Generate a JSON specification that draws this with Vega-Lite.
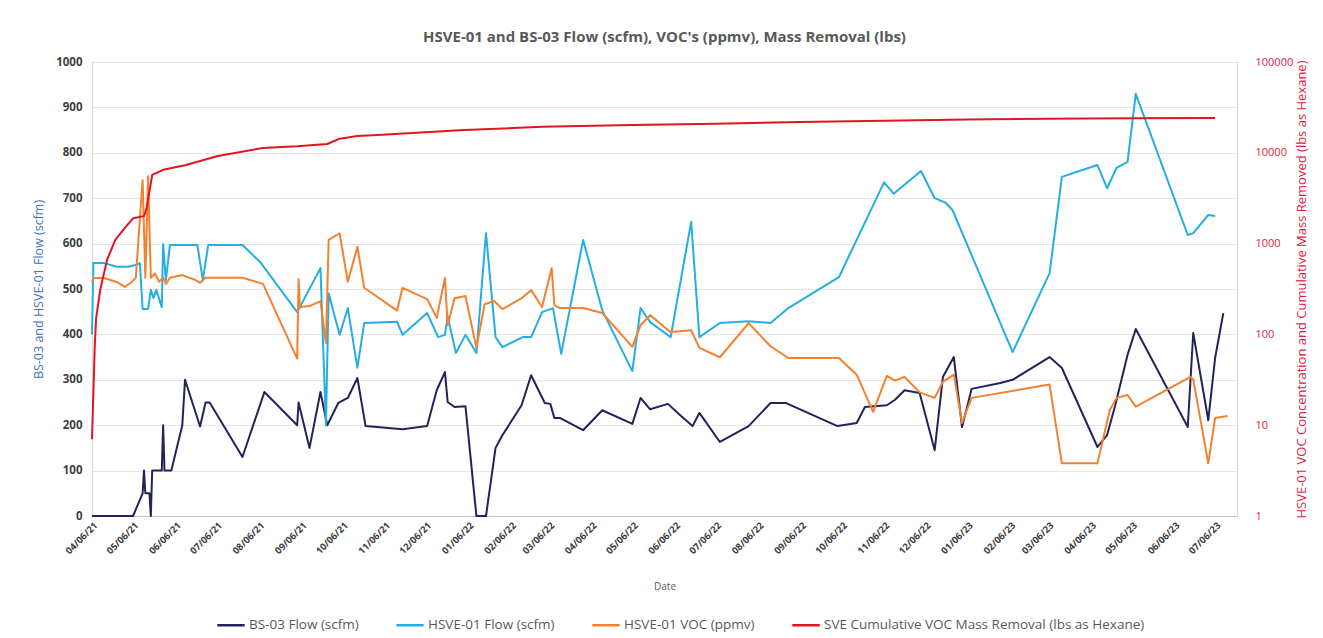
{
  "$schema": "https://vega.github.io/schema/vega-lite/v6.json",
  "width": 1145,
  "height": 454,
  "autosize": {"type": "none"},
  "padding": {"left": 92, "top": 62, "right": 86, "bottom": 122},
  "background": "white",
  "config": {
    "font": "Open Sans",
    "view": {"stroke": "#D9D9D9", "strokeWidth": 1}
  },
  "title": {
    "text": "HSVE-01 and BS-03 Flow (scfm), VOC's (ppmv), Mass Removal (lbs)",
    "frame": "group",
    "anchor": "middle",
    "fontSize": 15,
    "fontWeight": "bold",
    "color": "#595959",
    "font": "Open Sans",
    "offset": 11
  },
  "data": {
    "format": {"parse": {"d": "date:'%Y-%m-%d'"}},
    "values": [
      {"d": "2021-04-06", "s": "BS-03 Flow (scfm)", "v": 0},
      {"d": "2021-05-06", "s": "BS-03 Flow (scfm)", "v": 0},
      {"d": "2021-05-13", "s": "BS-03 Flow (scfm)", "v": 50},
      {"d": "2021-05-14", "s": "BS-03 Flow (scfm)", "v": 100},
      {"d": "2021-05-15", "s": "BS-03 Flow (scfm)", "v": 50},
      {"d": "2021-05-18", "s": "BS-03 Flow (scfm)", "v": 50},
      {"d": "2021-05-19", "s": "BS-03 Flow (scfm)", "v": 0},
      {"d": "2021-05-20", "s": "BS-03 Flow (scfm)", "v": 100},
      {"d": "2021-05-27", "s": "BS-03 Flow (scfm)", "v": 100},
      {"d": "2021-05-28", "s": "BS-03 Flow (scfm)", "v": 200},
      {"d": "2021-05-29", "s": "BS-03 Flow (scfm)", "v": 100},
      {"d": "2021-06-03", "s": "BS-03 Flow (scfm)", "v": 100},
      {"d": "2021-06-11", "s": "BS-03 Flow (scfm)", "v": 200},
      {"d": "2021-06-13", "s": "BS-03 Flow (scfm)", "v": 300},
      {"d": "2021-06-24", "s": "BS-03 Flow (scfm)", "v": 197},
      {"d": "2021-06-28", "s": "BS-03 Flow (scfm)", "v": 250},
      {"d": "2021-07-01", "s": "BS-03 Flow (scfm)", "v": 250},
      {"d": "2021-07-25", "s": "BS-03 Flow (scfm)", "v": 130},
      {"d": "2021-08-10", "s": "BS-03 Flow (scfm)", "v": 273},
      {"d": "2021-09-03", "s": "BS-03 Flow (scfm)", "v": 200},
      {"d": "2021-09-04", "s": "BS-03 Flow (scfm)", "v": 250},
      {"d": "2021-09-12", "s": "BS-03 Flow (scfm)", "v": 150},
      {"d": "2021-09-20", "s": "BS-03 Flow (scfm)", "v": 273},
      {"d": "2021-09-25", "s": "BS-03 Flow (scfm)", "v": 200},
      {"d": "2021-10-03", "s": "BS-03 Flow (scfm)", "v": 249},
      {"d": "2021-10-10", "s": "BS-03 Flow (scfm)", "v": 260},
      {"d": "2021-10-17", "s": "BS-03 Flow (scfm)", "v": 304},
      {"d": "2021-10-23", "s": "BS-03 Flow (scfm)", "v": 198},
      {"d": "2021-11-19", "s": "BS-03 Flow (scfm)", "v": 191},
      {"d": "2021-12-07", "s": "BS-03 Flow (scfm)", "v": 198},
      {"d": "2021-12-14", "s": "BS-03 Flow (scfm)", "v": 277},
      {"d": "2021-12-20", "s": "BS-03 Flow (scfm)", "v": 317},
      {"d": "2021-12-22", "s": "BS-03 Flow (scfm)", "v": 251},
      {"d": "2021-12-27", "s": "BS-03 Flow (scfm)", "v": 240},
      {"d": "2022-01-04", "s": "BS-03 Flow (scfm)", "v": 242},
      {"d": "2022-01-12", "s": "BS-03 Flow (scfm)", "v": 0},
      {"d": "2022-01-19", "s": "BS-03 Flow (scfm)", "v": 0},
      {"d": "2022-01-26", "s": "BS-03 Flow (scfm)", "v": 150},
      {"d": "2022-01-31", "s": "BS-03 Flow (scfm)", "v": 178},
      {"d": "2022-02-14", "s": "BS-03 Flow (scfm)", "v": 244},
      {"d": "2022-02-21", "s": "BS-03 Flow (scfm)", "v": 310},
      {"d": "2022-03-03", "s": "BS-03 Flow (scfm)", "v": 249},
      {"d": "2022-03-07", "s": "BS-03 Flow (scfm)", "v": 247},
      {"d": "2022-03-10", "s": "BS-03 Flow (scfm)", "v": 216},
      {"d": "2022-03-14", "s": "BS-03 Flow (scfm)", "v": 216},
      {"d": "2022-03-31", "s": "BS-03 Flow (scfm)", "v": 189},
      {"d": "2022-04-14", "s": "BS-03 Flow (scfm)", "v": 233},
      {"d": "2022-05-06", "s": "BS-03 Flow (scfm)", "v": 203},
      {"d": "2022-05-12", "s": "BS-03 Flow (scfm)", "v": 260},
      {"d": "2022-05-19", "s": "BS-03 Flow (scfm)", "v": 235},
      {"d": "2022-06-01", "s": "BS-03 Flow (scfm)", "v": 247},
      {"d": "2022-06-10", "s": "BS-03 Flow (scfm)", "v": 222},
      {"d": "2022-06-19", "s": "BS-03 Flow (scfm)", "v": 198},
      {"d": "2022-06-24", "s": "BS-03 Flow (scfm)", "v": 227},
      {"d": "2022-07-09", "s": "BS-03 Flow (scfm)", "v": 163},
      {"d": "2022-07-30", "s": "BS-03 Flow (scfm)", "v": 198},
      {"d": "2022-08-15", "s": "BS-03 Flow (scfm)", "v": 249},
      {"d": "2022-08-26", "s": "BS-03 Flow (scfm)", "v": 249},
      {"d": "2022-10-03", "s": "BS-03 Flow (scfm)", "v": 198},
      {"d": "2022-10-17", "s": "BS-03 Flow (scfm)", "v": 205},
      {"d": "2022-10-23", "s": "BS-03 Flow (scfm)", "v": 240},
      {"d": "2022-11-08", "s": "BS-03 Flow (scfm)", "v": 244},
      {"d": "2022-11-14", "s": "BS-03 Flow (scfm)", "v": 256},
      {"d": "2022-11-21", "s": "BS-03 Flow (scfm)", "v": 277},
      {"d": "2022-12-02", "s": "BS-03 Flow (scfm)", "v": 271},
      {"d": "2022-12-13", "s": "BS-03 Flow (scfm)", "v": 145},
      {"d": "2022-12-19", "s": "BS-03 Flow (scfm)", "v": 306},
      {"d": "2022-12-27", "s": "BS-03 Flow (scfm)", "v": 350},
      {"d": "2023-01-02", "s": "BS-03 Flow (scfm)", "v": 196},
      {"d": "2023-01-09", "s": "BS-03 Flow (scfm)", "v": 280},
      {"d": "2023-01-30", "s": "BS-03 Flow (scfm)", "v": 293},
      {"d": "2023-02-08", "s": "BS-03 Flow (scfm)", "v": 300},
      {"d": "2023-03-07", "s": "BS-03 Flow (scfm)", "v": 350},
      {"d": "2023-03-16", "s": "BS-03 Flow (scfm)", "v": 326},
      {"d": "2023-04-11", "s": "BS-03 Flow (scfm)", "v": 152},
      {"d": "2023-04-18", "s": "BS-03 Flow (scfm)", "v": 178},
      {"d": "2023-04-24", "s": "BS-03 Flow (scfm)", "v": 244},
      {"d": "2023-05-03", "s": "BS-03 Flow (scfm)", "v": 355},
      {"d": "2023-05-09", "s": "BS-03 Flow (scfm)", "v": 412},
      {"d": "2023-06-16", "s": "BS-03 Flow (scfm)", "v": 196},
      {"d": "2023-06-20", "s": "BS-03 Flow (scfm)", "v": 403},
      {"d": "2023-07-01", "s": "BS-03 Flow (scfm)", "v": 211},
      {"d": "2023-07-06", "s": "BS-03 Flow (scfm)", "v": 348},
      {"d": "2023-07-12", "s": "BS-03 Flow (scfm)", "v": 447},

      {"d": "2021-04-06", "s": "HSVE-01 Flow (scfm)", "v": 400},
      {"d": "2021-04-07", "s": "HSVE-01 Flow (scfm)", "v": 557},
      {"d": "2021-04-15", "s": "HSVE-01 Flow (scfm)", "v": 557},
      {"d": "2021-04-24", "s": "HSVE-01 Flow (scfm)", "v": 549},
      {"d": "2021-05-02", "s": "HSVE-01 Flow (scfm)", "v": 549},
      {"d": "2021-05-08", "s": "HSVE-01 Flow (scfm)", "v": 553},
      {"d": "2021-05-11", "s": "HSVE-01 Flow (scfm)", "v": 557},
      {"d": "2021-05-13", "s": "HSVE-01 Flow (scfm)", "v": 456},
      {"d": "2021-05-17", "s": "HSVE-01 Flow (scfm)", "v": 456},
      {"d": "2021-05-19", "s": "HSVE-01 Flow (scfm)", "v": 498},
      {"d": "2021-05-21", "s": "HSVE-01 Flow (scfm)", "v": 480},
      {"d": "2021-05-23", "s": "HSVE-01 Flow (scfm)", "v": 498},
      {"d": "2021-05-27", "s": "HSVE-01 Flow (scfm)", "v": 460},
      {"d": "2021-05-28", "s": "HSVE-01 Flow (scfm)", "v": 599},
      {"d": "2021-05-30", "s": "HSVE-01 Flow (scfm)", "v": 520},
      {"d": "2021-06-02", "s": "HSVE-01 Flow (scfm)", "v": 597},
      {"d": "2021-06-22", "s": "HSVE-01 Flow (scfm)", "v": 597},
      {"d": "2021-06-26", "s": "HSVE-01 Flow (scfm)", "v": 520},
      {"d": "2021-06-30", "s": "HSVE-01 Flow (scfm)", "v": 597},
      {"d": "2021-07-25", "s": "HSVE-01 Flow (scfm)", "v": 597},
      {"d": "2021-08-07", "s": "HSVE-01 Flow (scfm)", "v": 559},
      {"d": "2021-09-03", "s": "HSVE-01 Flow (scfm)", "v": 449},
      {"d": "2021-09-20", "s": "HSVE-01 Flow (scfm)", "v": 546},
      {"d": "2021-09-24", "s": "HSVE-01 Flow (scfm)", "v": 200},
      {"d": "2021-09-26", "s": "HSVE-01 Flow (scfm)", "v": 490},
      {"d": "2021-10-04", "s": "HSVE-01 Flow (scfm)", "v": 399},
      {"d": "2021-10-10", "s": "HSVE-01 Flow (scfm)", "v": 458},
      {"d": "2021-10-17", "s": "HSVE-01 Flow (scfm)", "v": 327},
      {"d": "2021-10-22", "s": "HSVE-01 Flow (scfm)", "v": 425},
      {"d": "2021-11-15", "s": "HSVE-01 Flow (scfm)", "v": 428},
      {"d": "2021-11-19", "s": "HSVE-01 Flow (scfm)", "v": 399},
      {"d": "2021-12-07", "s": "HSVE-01 Flow (scfm)", "v": 447},
      {"d": "2021-12-15", "s": "HSVE-01 Flow (scfm)", "v": 394},
      {"d": "2021-12-20", "s": "HSVE-01 Flow (scfm)", "v": 399},
      {"d": "2021-12-22", "s": "HSVE-01 Flow (scfm)", "v": 440},
      {"d": "2021-12-28", "s": "HSVE-01 Flow (scfm)", "v": 359},
      {"d": "2022-01-04", "s": "HSVE-01 Flow (scfm)", "v": 399},
      {"d": "2022-01-12", "s": "HSVE-01 Flow (scfm)", "v": 359},
      {"d": "2022-01-19", "s": "HSVE-01 Flow (scfm)", "v": 623},
      {"d": "2022-01-26", "s": "HSVE-01 Flow (scfm)", "v": 394},
      {"d": "2022-01-31", "s": "HSVE-01 Flow (scfm)", "v": 372},
      {"d": "2022-02-15", "s": "HSVE-01 Flow (scfm)", "v": 394},
      {"d": "2022-02-21", "s": "HSVE-01 Flow (scfm)", "v": 394},
      {"d": "2022-03-01", "s": "HSVE-01 Flow (scfm)", "v": 449},
      {"d": "2022-03-09", "s": "HSVE-01 Flow (scfm)", "v": 458},
      {"d": "2022-03-15", "s": "HSVE-01 Flow (scfm)", "v": 357},
      {"d": "2022-03-31", "s": "HSVE-01 Flow (scfm)", "v": 608},
      {"d": "2022-04-14", "s": "HSVE-01 Flow (scfm)", "v": 453},
      {"d": "2022-05-06", "s": "HSVE-01 Flow (scfm)", "v": 319},
      {"d": "2022-05-12", "s": "HSVE-01 Flow (scfm)", "v": 458},
      {"d": "2022-05-19", "s": "HSVE-01 Flow (scfm)", "v": 427},
      {"d": "2022-06-03", "s": "HSVE-01 Flow (scfm)", "v": 394},
      {"d": "2022-06-18", "s": "HSVE-01 Flow (scfm)", "v": 648},
      {"d": "2022-06-24", "s": "HSVE-01 Flow (scfm)", "v": 394},
      {"d": "2022-07-09", "s": "HSVE-01 Flow (scfm)", "v": 425},
      {"d": "2022-07-30", "s": "HSVE-01 Flow (scfm)", "v": 429},
      {"d": "2022-08-15", "s": "HSVE-01 Flow (scfm)", "v": 425},
      {"d": "2022-08-28", "s": "HSVE-01 Flow (scfm)", "v": 458},
      {"d": "2022-10-04", "s": "HSVE-01 Flow (scfm)", "v": 526},
      {"d": "2022-11-06", "s": "HSVE-01 Flow (scfm)", "v": 735},
      {"d": "2022-11-13", "s": "HSVE-01 Flow (scfm)", "v": 710},
      {"d": "2022-12-03", "s": "HSVE-01 Flow (scfm)", "v": 760},
      {"d": "2022-12-13", "s": "HSVE-01 Flow (scfm)", "v": 700},
      {"d": "2022-12-21", "s": "HSVE-01 Flow (scfm)", "v": 690},
      {"d": "2022-12-26", "s": "HSVE-01 Flow (scfm)", "v": 674},
      {"d": "2023-02-08", "s": "HSVE-01 Flow (scfm)", "v": 361},
      {"d": "2023-03-07", "s": "HSVE-01 Flow (scfm)", "v": 535},
      {"d": "2023-03-16", "s": "HSVE-01 Flow (scfm)", "v": 747},
      {"d": "2023-04-11", "s": "HSVE-01 Flow (scfm)", "v": 773},
      {"d": "2023-04-18", "s": "HSVE-01 Flow (scfm)", "v": 722},
      {"d": "2023-04-25", "s": "HSVE-01 Flow (scfm)", "v": 767},
      {"d": "2023-05-03", "s": "HSVE-01 Flow (scfm)", "v": 780},
      {"d": "2023-05-09", "s": "HSVE-01 Flow (scfm)", "v": 930},
      {"d": "2023-06-16", "s": "HSVE-01 Flow (scfm)", "v": 619},
      {"d": "2023-06-20", "s": "HSVE-01 Flow (scfm)", "v": 623},
      {"d": "2023-07-01", "s": "HSVE-01 Flow (scfm)", "v": 663},
      {"d": "2023-07-06", "s": "HSVE-01 Flow (scfm)", "v": 661},

      {"d": "2021-04-06", "s": "HSVE-01 VOC (ppmv)", "v": 378},
      {"d": "2021-04-07", "s": "HSVE-01 VOC (ppmv)", "v": 418},
      {"d": "2021-04-15", "s": "HSVE-01 VOC (ppmv)", "v": 418},
      {"d": "2021-04-24", "s": "HSVE-01 VOC (ppmv)", "v": 378},
      {"d": "2021-04-30", "s": "HSVE-01 VOC (ppmv)", "v": 333},
      {"d": "2021-05-05", "s": "HSVE-01 VOC (ppmv)", "v": 378},
      {"d": "2021-05-08", "s": "HSVE-01 VOC (ppmv)", "v": 420},
      {"d": "2021-05-13", "s": "HSVE-01 VOC (ppmv)", "v": 5000},
      {"d": "2021-05-15", "s": "HSVE-01 VOC (ppmv)", "v": 420},
      {"d": "2021-05-17", "s": "HSVE-01 VOC (ppmv)", "v": 5500},
      {"d": "2021-05-19", "s": "HSVE-01 VOC (ppmv)", "v": 420},
      {"d": "2021-05-22", "s": "HSVE-01 VOC (ppmv)", "v": 470},
      {"d": "2021-05-25", "s": "HSVE-01 VOC (ppmv)", "v": 380},
      {"d": "2021-05-28", "s": "HSVE-01 VOC (ppmv)", "v": 420},
      {"d": "2021-05-30", "s": "HSVE-01 VOC (ppmv)", "v": 360},
      {"d": "2021-06-02", "s": "HSVE-01 VOC (ppmv)", "v": 420},
      {"d": "2021-06-11", "s": "HSVE-01 VOC (ppmv)", "v": 450},
      {"d": "2021-06-20", "s": "HSVE-01 VOC (ppmv)", "v": 400},
      {"d": "2021-06-24", "s": "HSVE-01 VOC (ppmv)", "v": 370},
      {"d": "2021-06-28", "s": "HSVE-01 VOC (ppmv)", "v": 420},
      {"d": "2021-07-25", "s": "HSVE-01 VOC (ppmv)", "v": 420},
      {"d": "2021-08-09", "s": "HSVE-01 VOC (ppmv)", "v": 360},
      {"d": "2021-09-03", "s": "HSVE-01 VOC (ppmv)", "v": 54},
      {"d": "2021-09-04", "s": "HSVE-01 VOC (ppmv)", "v": 407},
      {"d": "2021-09-05", "s": "HSVE-01 VOC (ppmv)", "v": 200},
      {"d": "2021-09-12", "s": "HSVE-01 VOC (ppmv)", "v": 205},
      {"d": "2021-09-20", "s": "HSVE-01 VOC (ppmv)", "v": 233},
      {"d": "2021-09-24", "s": "HSVE-01 VOC (ppmv)", "v": 80},
      {"d": "2021-09-26", "s": "HSVE-01 VOC (ppmv)", "v": 1100},
      {"d": "2021-10-04", "s": "HSVE-01 VOC (ppmv)", "v": 1300},
      {"d": "2021-10-10", "s": "HSVE-01 VOC (ppmv)", "v": 380},
      {"d": "2021-10-17", "s": "HSVE-01 VOC (ppmv)", "v": 920},
      {"d": "2021-10-22", "s": "HSVE-01 VOC (ppmv)", "v": 326},
      {"d": "2021-11-15", "s": "HSVE-01 VOC (ppmv)", "v": 183},
      {"d": "2021-11-19", "s": "HSVE-01 VOC (ppmv)", "v": 326},
      {"d": "2021-12-07", "s": "HSVE-01 VOC (ppmv)", "v": 245},
      {"d": "2021-12-14", "s": "HSVE-01 VOC (ppmv)", "v": 152},
      {"d": "2021-12-20", "s": "HSVE-01 VOC (ppmv)", "v": 418},
      {"d": "2021-12-22", "s": "HSVE-01 VOC (ppmv)", "v": 126},
      {"d": "2021-12-27", "s": "HSVE-01 VOC (ppmv)", "v": 250},
      {"d": "2022-01-04", "s": "HSVE-01 VOC (ppmv)", "v": 265},
      {"d": "2022-01-12", "s": "HSVE-01 VOC (ppmv)", "v": 71},
      {"d": "2022-01-18", "s": "HSVE-01 VOC (ppmv)", "v": 215},
      {"d": "2022-01-25", "s": "HSVE-01 VOC (ppmv)", "v": 233},
      {"d": "2022-01-31", "s": "HSVE-01 VOC (ppmv)", "v": 190},
      {"d": "2022-02-14", "s": "HSVE-01 VOC (ppmv)", "v": 250},
      {"d": "2022-02-21", "s": "HSVE-01 VOC (ppmv)", "v": 307},
      {"d": "2022-03-01", "s": "HSVE-01 VOC (ppmv)", "v": 200},
      {"d": "2022-03-08", "s": "HSVE-01 VOC (ppmv)", "v": 536},
      {"d": "2022-03-10", "s": "HSVE-01 VOC (ppmv)", "v": 210},
      {"d": "2022-03-14", "s": "HSVE-01 VOC (ppmv)", "v": 195},
      {"d": "2022-03-31", "s": "HSVE-01 VOC (ppmv)", "v": 195},
      {"d": "2022-04-14", "s": "HSVE-01 VOC (ppmv)", "v": 172},
      {"d": "2022-05-06", "s": "HSVE-01 VOC (ppmv)", "v": 73},
      {"d": "2022-05-12", "s": "HSVE-01 VOC (ppmv)", "v": 126},
      {"d": "2022-05-19", "s": "HSVE-01 VOC (ppmv)", "v": 163},
      {"d": "2022-05-26", "s": "HSVE-01 VOC (ppmv)", "v": 133},
      {"d": "2022-06-03", "s": "HSVE-01 VOC (ppmv)", "v": 106},
      {"d": "2022-06-18", "s": "HSVE-01 VOC (ppmv)", "v": 111},
      {"d": "2022-06-24", "s": "HSVE-01 VOC (ppmv)", "v": 71},
      {"d": "2022-07-09", "s": "HSVE-01 VOC (ppmv)", "v": 56},
      {"d": "2022-07-30", "s": "HSVE-01 VOC (ppmv)", "v": 133},
      {"d": "2022-08-15", "s": "HSVE-01 VOC (ppmv)", "v": 74},
      {"d": "2022-08-28", "s": "HSVE-01 VOC (ppmv)", "v": 55},
      {"d": "2022-10-04", "s": "HSVE-01 VOC (ppmv)", "v": 55},
      {"d": "2022-10-17", "s": "HSVE-01 VOC (ppmv)", "v": 36},
      {"d": "2022-10-29", "s": "HSVE-01 VOC (ppmv)", "v": 14},
      {"d": "2022-11-08", "s": "HSVE-01 VOC (ppmv)", "v": 35},
      {"d": "2022-11-14", "s": "HSVE-01 VOC (ppmv)", "v": 31},
      {"d": "2022-11-21", "s": "HSVE-01 VOC (ppmv)", "v": 34},
      {"d": "2022-12-02", "s": "HSVE-01 VOC (ppmv)", "v": 23},
      {"d": "2022-12-13", "s": "HSVE-01 VOC (ppmv)", "v": 20},
      {"d": "2022-12-19", "s": "HSVE-01 VOC (ppmv)", "v": 30},
      {"d": "2022-12-27", "s": "HSVE-01 VOC (ppmv)", "v": 36},
      {"d": "2023-01-02", "s": "HSVE-01 VOC (ppmv)", "v": 10.6},
      {"d": "2023-01-09", "s": "HSVE-01 VOC (ppmv)", "v": 20},
      {"d": "2023-03-07", "s": "HSVE-01 VOC (ppmv)", "v": 28},
      {"d": "2023-03-16", "s": "HSVE-01 VOC (ppmv)", "v": 3.8},
      {"d": "2023-04-11", "s": "HSVE-01 VOC (ppmv)", "v": 3.8},
      {"d": "2023-04-20", "s": "HSVE-01 VOC (ppmv)", "v": 14.7},
      {"d": "2023-04-25", "s": "HSVE-01 VOC (ppmv)", "v": 20},
      {"d": "2023-05-03", "s": "HSVE-01 VOC (ppmv)", "v": 21.5},
      {"d": "2023-05-09", "s": "HSVE-01 VOC (ppmv)", "v": 16},
      {"d": "2023-06-18", "s": "HSVE-01 VOC (ppmv)", "v": 34},
      {"d": "2023-06-20", "s": "HSVE-01 VOC (ppmv)", "v": 32},
      {"d": "2023-07-01", "s": "HSVE-01 VOC (ppmv)", "v": 3.8},
      {"d": "2023-07-06", "s": "HSVE-01 VOC (ppmv)", "v": 12},
      {"d": "2023-07-15", "s": "HSVE-01 VOC (ppmv)", "v": 12.6},

      {"d": "2021-04-06", "s": "SVE Cumulative VOC Mass Removal  (lbs as Hexane)", "v": 7},
      {"d": "2021-04-08", "s": "SVE Cumulative VOC Mass Removal  (lbs as Hexane)", "v": 73},
      {"d": "2021-04-09", "s": "SVE Cumulative VOC Mass Removal  (lbs as Hexane)", "v": 150},
      {"d": "2021-04-12", "s": "SVE Cumulative VOC Mass Removal  (lbs as Hexane)", "v": 310},
      {"d": "2021-04-17", "s": "SVE Cumulative VOC Mass Removal  (lbs as Hexane)", "v": 660},
      {"d": "2021-04-23", "s": "SVE Cumulative VOC Mass Removal  (lbs as Hexane)", "v": 1100},
      {"d": "2021-04-30", "s": "SVE Cumulative VOC Mass Removal  (lbs as Hexane)", "v": 1490},
      {"d": "2021-05-06", "s": "SVE Cumulative VOC Mass Removal  (lbs as Hexane)", "v": 1900},
      {"d": "2021-05-11", "s": "SVE Cumulative VOC Mass Removal  (lbs as Hexane)", "v": 1970},
      {"d": "2021-05-14", "s": "SVE Cumulative VOC Mass Removal  (lbs as Hexane)", "v": 2000},
      {"d": "2021-05-16", "s": "SVE Cumulative VOC Mass Removal  (lbs as Hexane)", "v": 2500},
      {"d": "2021-05-20", "s": "SVE Cumulative VOC Mass Removal  (lbs as Hexane)", "v": 5700},
      {"d": "2021-05-28", "s": "SVE Cumulative VOC Mass Removal  (lbs as Hexane)", "v": 6500},
      {"d": "2021-06-13", "s": "SVE Cumulative VOC Mass Removal  (lbs as Hexane)", "v": 7300},
      {"d": "2021-07-07", "s": "SVE Cumulative VOC Mass Removal  (lbs as Hexane)", "v": 9200},
      {"d": "2021-08-09", "s": "SVE Cumulative VOC Mass Removal  (lbs as Hexane)", "v": 11300},
      {"d": "2021-09-03", "s": "SVE Cumulative VOC Mass Removal  (lbs as Hexane)", "v": 11800},
      {"d": "2021-09-25", "s": "SVE Cumulative VOC Mass Removal  (lbs as Hexane)", "v": 12500},
      {"d": "2021-10-04", "s": "SVE Cumulative VOC Mass Removal  (lbs as Hexane)", "v": 14300},
      {"d": "2021-10-17", "s": "SVE Cumulative VOC Mass Removal  (lbs as Hexane)", "v": 15300},
      {"d": "2021-11-01", "s": "SVE Cumulative VOC Mass Removal  (lbs as Hexane)", "v": 15700},
      {"d": "2022-01-03", "s": "SVE Cumulative VOC Mass Removal  (lbs as Hexane)", "v": 17800},
      {"d": "2022-03-01", "s": "SVE Cumulative VOC Mass Removal  (lbs as Hexane)", "v": 19300},
      {"d": "2022-05-06", "s": "SVE Cumulative VOC Mass Removal  (lbs as Hexane)", "v": 20300},
      {"d": "2022-07-06", "s": "SVE Cumulative VOC Mass Removal  (lbs as Hexane)", "v": 20900},
      {"d": "2022-09-06", "s": "SVE Cumulative VOC Mass Removal  (lbs as Hexane)", "v": 21800},
      {"d": "2022-11-06", "s": "SVE Cumulative VOC Mass Removal  (lbs as Hexane)", "v": 22600},
      {"d": "2023-01-06", "s": "SVE Cumulative VOC Mass Removal  (lbs as Hexane)", "v": 23200},
      {"d": "2023-03-06", "s": "SVE Cumulative VOC Mass Removal  (lbs as Hexane)", "v": 23700},
      {"d": "2023-05-06", "s": "SVE Cumulative VOC Mass Removal  (lbs as Hexane)", "v": 24000},
      {"d": "2023-07-06", "s": "SVE Cumulative VOC Mass Removal  (lbs as Hexane)", "v": 24200}
    ]
  },
  "encoding": {
    "x": {
      "field": "d",
      "type": "temporal",
      "title": "Date",
      "scale": {
        "domain": [
          {"year": 2021, "month": 4, "date": 6},
          {"year": 2023, "month": 7, "date": 22}
        ]
      },
      "axis": {
        "values": [
          {"year": 2021, "month": 4, "date": 6},
          {"year": 2021, "month": 5, "date": 6},
          {"year": 2021, "month": 6, "date": 6},
          {"year": 2021, "month": 7, "date": 6},
          {"year": 2021, "month": 8, "date": 6},
          {"year": 2021, "month": 9, "date": 6},
          {"year": 2021, "month": 10, "date": 6},
          {"year": 2021, "month": 11, "date": 6},
          {"year": 2021, "month": 12, "date": 6},
          {"year": 2022, "month": 1, "date": 6},
          {"year": 2022, "month": 2, "date": 6},
          {"year": 2022, "month": 3, "date": 6},
          {"year": 2022, "month": 4, "date": 6},
          {"year": 2022, "month": 5, "date": 6},
          {"year": 2022, "month": 6, "date": 6},
          {"year": 2022, "month": 7, "date": 6},
          {"year": 2022, "month": 8, "date": 6},
          {"year": 2022, "month": 9, "date": 6},
          {"year": 2022, "month": 10, "date": 6},
          {"year": 2022, "month": 11, "date": 6},
          {"year": 2022, "month": 12, "date": 6},
          {"year": 2023, "month": 1, "date": 6},
          {"year": 2023, "month": 2, "date": 6},
          {"year": 2023, "month": 3, "date": 6},
          {"year": 2023, "month": 4, "date": 6},
          {"year": 2023, "month": 5, "date": 6},
          {"year": 2023, "month": 6, "date": 6},
          {"year": 2023, "month": 7, "date": 6}
        ],
        "format": "%m/%d/%y",
        "labelAngle": -45,
        "labelFontSize": 9.5,
        "labelFontWeight": "bold",
        "labelColor": "#404040",
        "labelPadding": 4,
        "ticks": false,
        "grid": false,
        "domainColor": "#BFBFBF",
        "titleFontSize": 10,
        "titleFontWeight": "normal",
        "titleColor": "#595959",
        "titlePadding": 26,
        "labelOverlap": false
      }
    },
    "color": {
      "field": "s",
      "type": "nominal",
      "scale": {
        "domain": [
          "BS-03 Flow (scfm)",
          "HSVE-01 Flow (scfm)",
          "HSVE-01 VOC (ppmv)",
          "SVE Cumulative VOC Mass Removal  (lbs as Hexane)"
        ],
        "range": ["#22235C", "#24AEE4", "#F3812F", "#DF1620"]
      },
      "legend": {
        "title": null,
        "orient": "none",
        "legendX": 124,
        "legendY": 548,
        "direction": "horizontal",
        "columns": 4,
        "symbolType": "stroke",
        "symbolSize": 750,
        "symbolStrokeWidth": 2.5,
        "labelFontSize": 13.5,
        "labelColor": "#595959",
        "labelLimit": 400,
        "labelOffset": 3,
        "columnPadding": 32
      }
    }
  },
  "layer": [
    {
      "encoding": {
        "y": {
          "field": "v",
          "type": "quantitative",
          "scale": {"domain": [0, 1000], "nice": false},
          "axis": {
            "orient": "left",
            "title": "BS-03 and HSVE-01 Flow (scfm)",
            "titleColor": "#4472C4",
            "titleFontSize": 12.5,
            "titleFontWeight": "normal",
            "titlePadding": 10,
            "values": [0, 100, 200, 300, 400, 500, 600, 700, 800, 900, 1000],
            "format": "d",
            "labelFontSize": 11.5,
            "labelFontWeight": "bold",
            "labelColor": "#404040",
            "labelPadding": 10,
            "ticks": false,
            "domain": false,
            "grid": true,
            "gridColor": "#E6E6E6"
          }
        }
      },
      "layer": [
        {
          "transform": [{"filter": "datum.s === 'BS-03 Flow (scfm)'"}],
          "mark": {"type": "line", "strokeWidth": 2, "strokeJoin": "round"}
        },
        {
          "transform": [{"filter": "datum.s === 'HSVE-01 Flow (scfm)'"}],
          "mark": {"type": "line", "strokeWidth": 2, "strokeJoin": "round"}
        }
      ]
    },
    {
      "encoding": {
        "y": {
          "field": "v",
          "type": "quantitative",
          "scale": {"type": "log", "domain": [1, 100000], "nice": false},
          "axis": {
            "orient": "right",
            "title": "HSVE-01 VOC Concentration and Cumulative Mass Removed (lbs as Hexane)",
            "titleAngle": 270,
            "titleColor": "#E0203A",
            "titleFontSize": 13,
            "titleFontWeight": "normal",
            "titlePadding": 16,
            "values": [1, 10, 100, 1000, 10000, 100000],
            "format": "d",
            "labelFontSize": 11,
            "labelColor": "#E0203A",
            "labelPadding": 18,
            "ticks": false,
            "domain": false,
            "grid": false
          }
        }
      },
      "layer": [
        {
          "transform": [{"filter": "datum.s === 'HSVE-01 VOC (ppmv)'"}],
          "mark": {"type": "line", "strokeWidth": 2, "strokeJoin": "round"}
        },
        {
          "transform": [{"filter": "datum.s === 'SVE Cumulative VOC Mass Removal  (lbs as Hexane)'"}],
          "mark": {"type": "line", "strokeWidth": 2, "strokeJoin": "round"}
        }
      ]
    }
  ],
  "resolve": {"scale": {"y": "independent"}}
}
